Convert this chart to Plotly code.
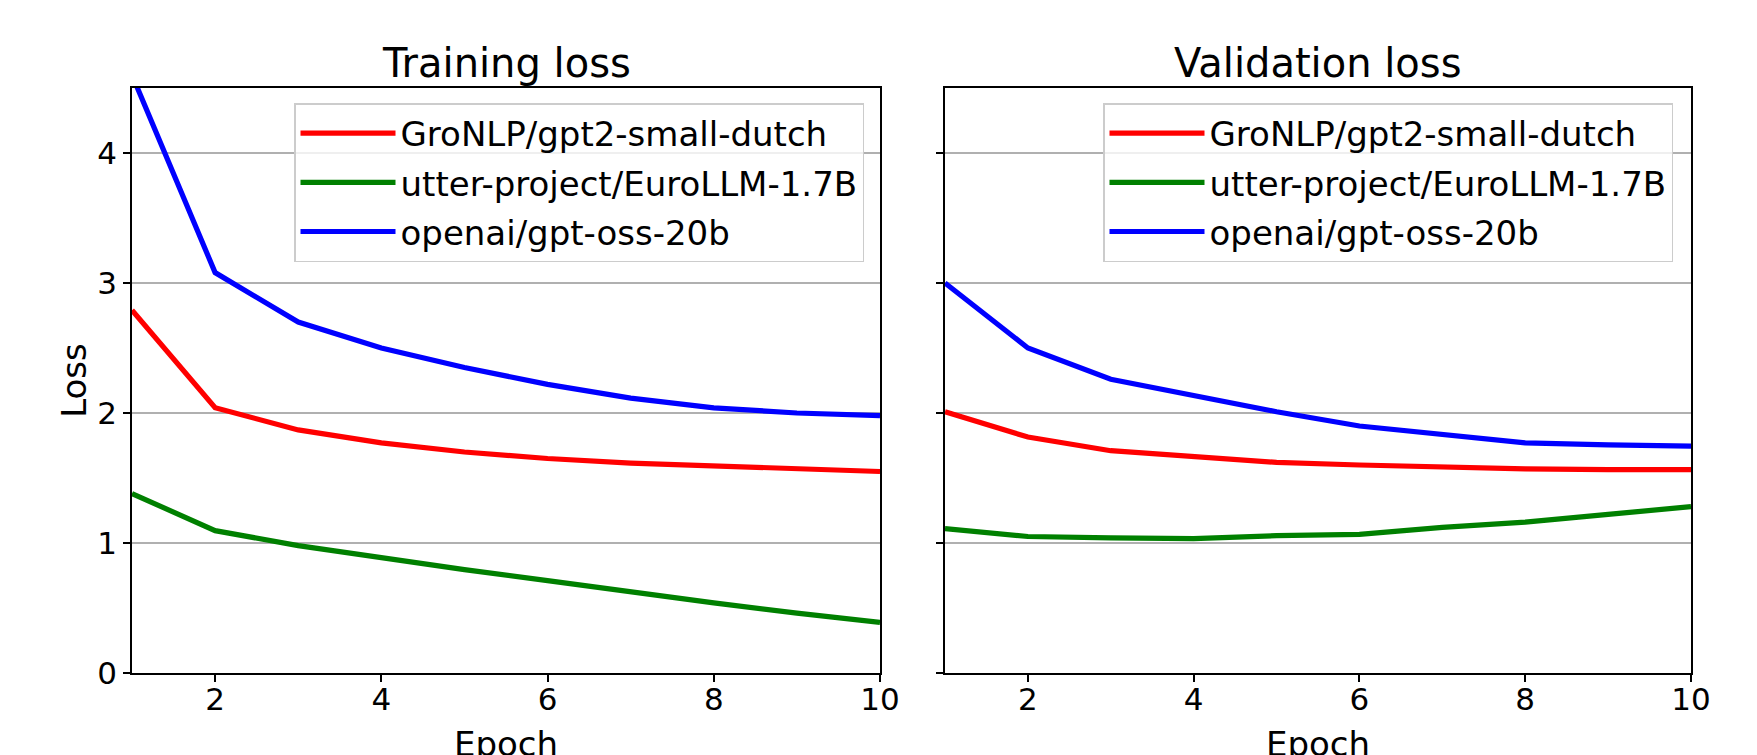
import plotly.graph_objects as go

epochs = [1, 2, 3, 4, 5, 6, 7, 8, 9, 10]
models = ["GroNLP/gpt2-small-dutch", "utter-project/EuroLLM-1.7B", "openai/gpt-oss-20b"]
colors = ["#ff0000", "#008000", "#0000ff"]

train_gronlp = [2.79, 2.04, 1.87, 1.77, 1.70, 1.65, 1.615, 1.59, 1.57, 1.55]
train_eurollm = [1.38, 1.095, 0.98, 0.885, 0.795, 0.71, 0.62, 0.54, 0.46, 0.39]
train_gptoss = [4.60, 3.08, 2.70, 2.50, 2.35, 2.22, 2.115, 2.04, 2.00, 1.98]

val_gronlp = [2.01, 1.815, 1.71, 1.66, 1.62, 1.60, 1.58, 1.57, 1.565, 1.565]
val_eurollm = [1.11, 1.05, 1.04, 1.033, 1.056, 1.066, 1.12, 1.16, 1.22, 1.28]
val_gptoss = [3.00, 2.50, 2.26, 2.13, 2.01, 1.90, 1.83, 1.77, 1.755, 1.745]

x_ticks = [2, 4, 6, 8, 10]
y_ticks = [0, 1, 2, 3, 4]

FONT = "DejaVu Sans"
W, H = 1757, 755
ML, MR, MT, MB = 132, 66, 88, 82
PW = W - ML - MR
PH = H - MT - MB

TICK_SIZE = 31
LABEL_SIZE = 34
LEGEND_SIZE = 34
TITLE_SIZE = 40

fig = go.Figure()

train = [train_gronlp, train_eurollm, train_gptoss]
val = [val_gronlp, val_eurollm, val_gptoss]

for name, c, ys in zip(models, colors, train):
    fig.add_trace(go.Scatter(x=epochs, y=ys, mode="lines", name=name,
                             line=dict(color=c, width=5.2),
                             legendgroup="train " + name,
                             xaxis="x", yaxis="y", legend="legend"))
for name, c, ys in zip(models, colors, val):
    fig.add_trace(go.Scatter(x=epochs, y=ys, mode="lines", name=name,
                             line=dict(color=c, width=5.2),
                             legendgroup="val " + name,
                             xaxis="x2", yaxis="y2", legend="legend2"))

left_dom = [0, (880 - ML) / PW]
right_dom = [(945 - ML) / PW, 1]

axis_common = dict(
    showline=True, linecolor="black", linewidth=1.7, mirror=True,
    ticks="outside", ticklen=7, tickwidth=1.7, tickcolor="black",
    tickfont=dict(family=FONT, size=TICK_SIZE, color="black"),
    zeroline=False, automargin=False,
)

legend_common = dict(
    bgcolor="rgba(255,255,255,0.8)", bordercolor="#cccccc", borderwidth=1.5,
    font=dict(family=FONT, size=LEGEND_SIZE, color="black"), itemwidth=95,
    tracegroupgap=2, y=1 - (103 - MT) / PH, yanchor="top", xanchor="right",
)

label_y = (H - MB - 743.5) / PH  # centre of the cut-off "Epoch" labels


def label(text, x, y, angle=0):
    return dict(text=text, xref="paper", yref="paper", x=x, y=y,
                xanchor="center", yanchor="middle", showarrow=False, textangle=angle,
                font=dict(family=FONT, size=LABEL_SIZE, color="black"))


fig.update_layout(
    width=W, height=H,
    margin=dict(l=ML, r=MR, t=MT, b=MB),
    paper_bgcolor="white", plot_bgcolor="white",
    font=dict(family=FONT, color="black"),
    xaxis=dict(domain=left_dom, range=[1, 10], tickvals=x_ticks, showgrid=False,
               ticklabelstandoff=-9, anchor="y", **axis_common),
    yaxis=dict(domain=[0, 1], range=[0, 4.5], tickvals=y_ticks, showgrid=True,
               gridcolor="#b0b0b0", gridwidth=1.6,
               title=dict(text="Loss", font=dict(family=FONT, size=LABEL_SIZE), standoff=0),
               anchor="x", **axis_common),
    xaxis2=dict(domain=right_dom, range=[1, 10], tickvals=x_ticks, showgrid=False,
                ticklabelstandoff=-9, anchor="y2", **axis_common),
    yaxis2=dict(domain=[0, 1], range=[0, 4.5], tickvals=y_ticks, showgrid=True,
                gridcolor="#b0b0b0", gridwidth=1.6, showticklabels=False,
                anchor="x2", **axis_common),
    legend=dict(x=(864 - ML) / PW, **legend_common),
    legend2=dict(x=(1673 - ML) / PW, **legend_common),
    annotations=[
        dict(text="Training loss", xref="paper", yref="paper",
             x=(left_dom[0] + left_dom[1]) / 2, y=(H - MB - 63) / PH,
             xanchor="center", yanchor="middle", showarrow=False,
             font=dict(family=FONT, size=TITLE_SIZE, color="black")),
        dict(text="Validation loss", xref="paper", yref="paper",
             x=(right_dom[0] + right_dom[1]) / 2, y=(H - MB - 63) / PH,
             xanchor="center", yanchor="middle", showarrow=False,
             font=dict(family=FONT, size=TITLE_SIZE, color="black")),
        label("Epoch", (left_dom[0] + left_dom[1]) / 2, label_y),
        label("Epoch", (right_dom[0] + right_dom[1]) / 2, label_y),
    ],
)

fig.write_html("out.html")
